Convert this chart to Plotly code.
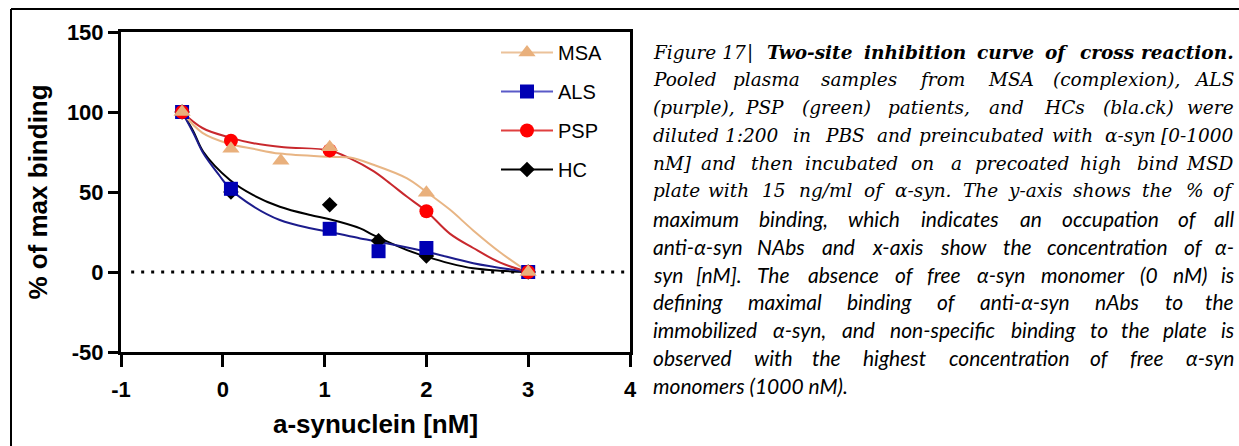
import plotly.graph_objects as go

# ---------------- data (log10 concentration, % of max binding) ----------------
msa_x = [-0.40, 0.08, 0.57, 1.05, 2.00, 3.00]
msa_y = [100, 77, 69.5, 78, 49.5, 0]
als_x = [-0.40, 0.08, 1.05, 1.53, 2.00, 3.00]
als_y = [100, 52, 27, 13, 15, 0]
psp_x = [-0.40, 0.08, 1.05, 2.00, 3.00]
psp_y = [100, 82, 76, 38, 0]
hc_x = [-0.40, 0.08, 1.05, 1.53, 2.00, 3.00]
hc_y = [100, 50, 42, 19.5, 10, 0]

# fitted two-site curves
msa_fit_x = [-0.40, -0.20, 0.07, 0.30, 0.56, 1.05, 1.25, 1.48, 1.81, 2.00, 2.23, 2.46, 2.72, 3.00]
msa_fit_y = [100, 87, 80, 77, 74, 72, 71.5, 67, 58.5, 50, 39, 26, 12.5, 0]
als_fit_x = [-0.40, -0.29, -0.19, -0.03, 0.07, 0.30, 0.56, 0.86, 1.05, 1.35, 1.48, 2.00, 2.46, 3.00]
als_fit_y = [100, 87, 74, 60, 52, 41, 32.5, 27.3, 25, 21, 19.5, 12.7, 5.5, 0]
psp_fit_x = [-0.40, -0.20, 0.07, 0.30, 0.60, 1.05, 1.25, 1.48, 1.65, 1.81, 2.00, 2.23, 2.46, 2.72, 3.00]
psp_fit_y = [100, 90, 84, 80.5, 78, 76, 71, 63, 55, 47, 38, 24, 15, 6, 0]
hc_fit_x = [-0.40, -0.29, -0.19, 0.07, 0.30, 0.56, 0.86, 1.05, 1.35, 1.48, 1.81, 2.00, 2.23, 2.46, 2.72, 3.00]
hc_fit_y = [100, 88, 75, 57.5, 48, 40.8, 35.6, 33, 27.3, 23, 13.7, 9.6, 5.4, 2.3, 0.8, 0]

series_names = ["MSA", "ALS", "PSP", "HC"]
x_ticks = [-1, 0, 1, 2, 3, 4]
y_ticks = [-50, 0, 50, 100, 150]

caption_lines = [
    "Figure\u00a017 |",
    "Pooled plasma samples from MSA (complexion), ALS",
    "(purple), PSP (green) patients, and HCs (bla.ck) were",
    "diluted 1:200 in PBS and preincubated with \u03b1-syn [0-1000",
    "nM] and then incubated on a precoated high bind MSD",
    "plate with 15 ng/ml of \u03b1-syn. The y-axis shows the % of",
    "maximum binding, which indicates an occupation of all",
    "anti-\u03b1-syn NAbs and x-axis show the concentration of \u03b1-",
    "syn [nM]. The absence of free \u03b1-syn monomer (0 nM) is",
    "defining maximal binding of anti-\u03b1-syn nAbs to the",
    "immobilized \u03b1-syn, and non-specific binding to the plate is",
    "observed with the highest concentration of free \u03b1-syn",
    "monomers (1000 nM).",
]
caption_bold_tail = "Two-site inhibition curve of cross reaction."

# ---------------- styles ----------------
colors = {"MSA": "#E9B07C", "ALS": "#0000B4", "PSP": "#FF0000", "HC": "#000000"}
line_colors = {"MSA": "#E8B584", "ALS": "#1C1C8C", "PSP": "#C8282D", "HC": "#000000"}
legend_line_colors = {"MSA": "#EBC29A", "ALS": "#5A5AC8", "PSP": "#E04040", "HC": "#000000"}
symbols = {"MSA": "triangle-up", "ALS": "square", "PSP": "circle", "HC": "diamond"}
sizes = {"MSA": 15, "ALS": 14, "PSP": 14, "HC": 12}

pts = {"MSA": (msa_x, msa_y), "ALS": (als_x, als_y), "PSP": (psp_x, psp_y), "HC": (hc_x, hc_y)}
fits = {"MSA": (msa_fit_x, msa_fit_y), "ALS": (als_fit_x, als_fit_y),
        "PSP": (psp_fit_x, psp_fit_y), "HC": (hc_fit_x, hc_fit_y)}

fig = go.Figure()

# legend entries
for i, n in enumerate(series_names):
    fig.add_trace(go.Scatter(
        x=[None], y=[None], name=n, mode="lines+markers", legendgroup=n,
        line=dict(color=legend_line_colors[n], width=2),
        marker=dict(symbol=symbols[n], color=colors[n], size=sizes[n])))

# fitted curves
for n in ["HC", "ALS", "PSP", "MSA"]:
    fx, fy = fits[n]
    fig.add_trace(go.Scatter(x=fx, y=fy, mode="lines", showlegend=False,
                             line=dict(color=line_colors[n], width=2, shape="spline", smoothing=1.0),
                             hoverinfo="skip"))
# data points
for n in ["HC", "ALS", "PSP", "MSA"]:
    px_, py_ = pts[n]
    fig.add_trace(go.Scatter(x=px_, y=py_, mode="markers", showlegend=False, name=n,
                             marker=dict(symbol=symbols[n], color=colors[n], size=sizes[n],
                                         line=dict(width=0))))

# dotted zero line
fig.add_shape(type="line", xref="x", yref="y", x0=-0.9, x1=4, y0=0, y1=0,
              line=dict(color="black", width=3, dash="3px,7px"), layer="below")

# ---------------- geometry helpers ----------------
W_FIG, H_FIG = 1239, 446
L, R, T, B = 121, 630, 32, 352


def pxx(px):
    return (px - L) / (R - L)


def pxy(py):
    return (B - py) / (B - T)


# outer border (only top and left edges are visible in the picture)
fig.add_shape(type="line", xref="paper", yref="paper",
              x0=pxx(11), x1=pxx(1260), y0=pxy(9), y1=pxy(9),
              line=dict(color="black", width=2))
fig.add_shape(type="line", xref="paper", yref="paper",
              x0=pxx(11), x1=pxx(11), y0=pxy(9), y1=pxy(470),
              line=dict(color="black", width=2))

# ---------------- caption with word-level justification ----------------
# approximate advance widths (em/1000): sans (Helvetica-like) and DejaVu Serif italic
HW = {'a': 556, 'b': 556, 'c': 500, 'd': 556, 'e': 556, 'f': 278, 'g': 556, 'h': 556, 'i': 222,
      'j': 222, 'k': 500, 'l': 222, 'm': 833, 'n': 556, 'o': 556, 'p': 556, 'q': 556, 'r': 333,
      's': 500, 't': 278, 'u': 556, 'v': 500, 'w': 722, 'x': 500, 'y': 500, 'z': 500,
      'A': 667, 'B': 667, 'C': 722, 'D': 722, 'E': 667, 'F': 611, 'G': 778, 'H': 722, 'I': 278,
      'J': 500, 'K': 667, 'L': 556, 'M': 833, 'N': 722, 'O': 778, 'P': 667, 'Q': 778, 'R': 722,
      'S': 667, 'T': 611, 'U': 722, 'V': 667, 'W': 944, 'X': 667, 'Y': 667, 'Z': 611,
      '.': 278, ',': 278, ':': 278, ';': 278, '-': 333, '(': 333, ')': 333, '[': 278, ']': 278,
      '/': 278, '|': 260, '%': 889, '\u03b1': 580, ' ': 278}
SW = {'a': 596, 'b': 640, 'c': 560, 'd': 640, 'e': 592, 'f': 420, 'g': 640, 'h': 644, 'i': 360,
      'j': 340, 'k': 606, 'l': 360, 'm': 948, 'n': 644, 'o': 602, 'p': 640, 'q': 640, 'r': 478,
      's': 530, 't': 430, 'u': 644, 'v': 565, 'w': 856, 'x': 564, 'y': 565, 'z': 527,
      'A': 722, 'B': 735, 'C': 765, 'D': 802, 'E': 730, 'F': 694, 'G': 799, 'H': 872, 'I': 395,
      'J': 401, 'K': 747, 'L': 664, 'M': 1024, 'N': 875, 'O': 820, 'P': 673, 'Q': 820, 'R': 753,
      'S': 685, 'T': 667, 'U': 843, 'V': 722, 'W': 1028, 'X': 712, 'Y': 660, 'Z': 695,
      '.': 318, ',': 318, ':': 337, ';': 337, '-': 338, '(': 390, ')': 390, '[': 390, ']': 390,
      '/': 337, '|': 337, '%': 950, '\u03b1': 640, ' ': 318, '\u00a0': 318,
      '0': 680, '1': 680, '2': 680, '3': 680, '4': 680, '5': 680, '6': 680, '7': 680, '8': 680, '9': 680}


def est_width(word, size, mult, table):
    return sum(table.get(c, 556) for c in word) / 1000.0 * size * mult


CAP_L, CAP_R = 651, 1236
CAP_TOP, CAP_STEP = 52, 27.75

for i, line in enumerate(caption_lines):
    yc = CAP_TOP + i * CAP_STEP
    if i < 6:
        fam, size, mult, table = "DejaVu Serif", 18.5, 0.87, SW
    else:
        fam, size, mult, table = "Lato", 21, 0.96, HW
    words = line.split(" ")
    bold = [False] * len(words)
    if i == 0:
        tail = caption_bold_tail.split(" ")
        words = words + tail
        bold = bold + [True] * len(tail)
    if i == len(caption_lines) - 1:
        fig.add_annotation(x=pxx(CAP_L), y=pxy(yc), xref="paper", yref="paper",
                           text=line, showarrow=False, xanchor="left", yanchor="middle",
                           font=dict(family=fam, size=size, color="black", style="italic"))
        continue
    widths = [est_width(w, size, mult * (1.2 if b else 1.0), table) for w, b in zip(words, bold)]
    gap = (CAP_R - CAP_L - sum(widths)) / (len(words) - 1)
    cur = CAP_L
    last = len(words) - 1
    for k, (w, b, wd) in enumerate(zip(words, bold, widths)):
        if k == 0:
            xa, xp = "left", cur
        elif k == last:
            xa, xp = "right", CAP_R
        else:
            xa, xp = "center", cur + wd / 2
        fig.add_annotation(x=pxx(xp), y=pxy(yc), xref="paper", yref="paper",
                           text=("<b>%s</b>" % w) if b else w, showarrow=False,
                           xanchor=xa, yanchor="middle",
                           font=dict(family=fam, size=size, color="black", style="italic"))
        cur += wd + gap

axis_font = dict(family="Liberation Sans, Arial", size=22, color="black", weight="bold")
title_font = dict(family="Liberation Sans, Arial", size=26, color="black", weight="bold")

fig.update_layout(
    width=W_FIG, height=H_FIG,
    margin=dict(l=L, r=W_FIG - R, t=T, b=H_FIG - B),
    paper_bgcolor="white", plot_bgcolor="white",
    showlegend=True,
    legend=dict(x=pxx(496), y=pxy(33), xanchor="left", yanchor="top",
                font=dict(family="Liberation Sans, Arial", size=20, color="black"),
                bgcolor="rgba(0,0,0,0)", tracegroupgap=10, traceorder="grouped",
                itemwidth=52),
    xaxis=dict(range=[-1, 4], tickvals=x_ticks, ticktext=[str(v) for v in x_ticks],
               ticks="outside", ticklen=12, tickwidth=3, tickcolor="black",
               showline=True, linewidth=3, linecolor="black", mirror=True,
               showgrid=False, zeroline=False, tickfont=axis_font, ticklabelstandoff=4,
               title=dict(text="a-synuclein [nM]", font=title_font, standoff=14)),
    yaxis=dict(range=[-50, 150], tickvals=y_ticks, ticktext=[str(v) for v in y_ticks],
               ticks="outside", ticklen=10, tickwidth=3, tickcolor="black",
               showline=True, linewidth=3, linecolor="black", mirror=True,
               showgrid=False, zeroline=False, tickfont=axis_font,
               title=dict(text="% of max binding", font=title_font, standoff=12)),
)

fig.write_html("out.html")
